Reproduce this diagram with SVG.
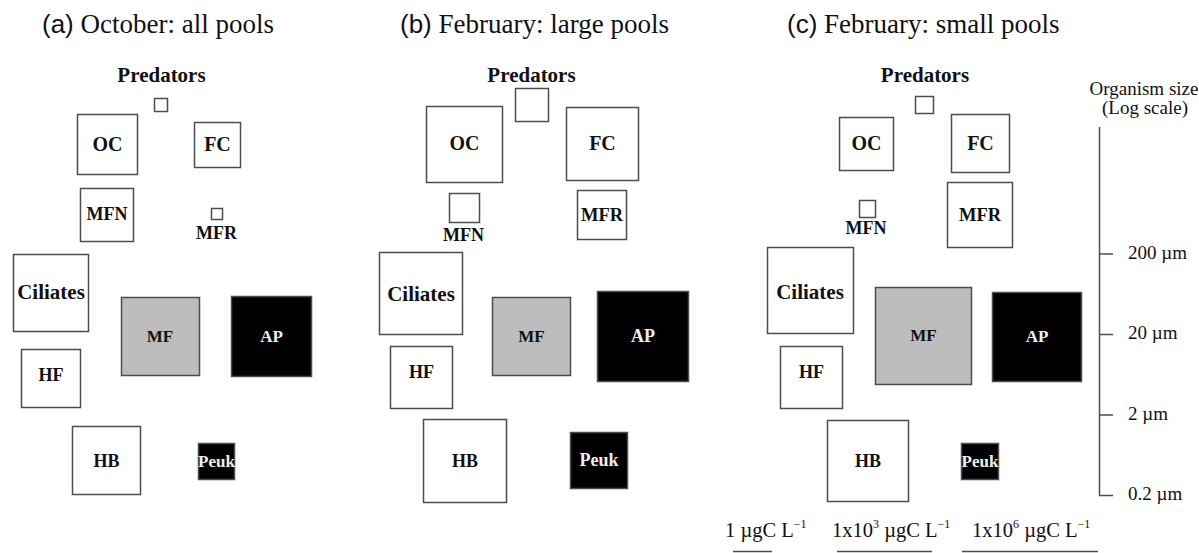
<svg xmlns="http://www.w3.org/2000/svg" width="1199" height="553" viewBox="0 0 1199 553">
<style>
.box{fill:#fff;stroke:#4d4d4d;stroke-width:1.5}
.mf{fill:#bdbdbd}
.dk{fill:#000}
.lbl{font-family:"Liberation Serif","Times New Roman",serif;font-weight:bold;text-anchor:middle;fill:#111}
.wl{fill:#eeeeee}
.ttl{font-family:"Liberation Serif","Times New Roman",serif;font-size:27px;fill:#111}
.sans{font-family:"Liberation Sans",Arial,sans-serif;font-size:26px}
.sc{font-family:"Liberation Serif","Times New Roman",serif;font-size:19px;fill:#111}
.lg{font-family:"Liberation Serif","Times New Roman",serif;font-size:20.5px;fill:#111}
.axis{stroke:#4d4d4d;stroke-width:1.5;fill:none}
</style>

<!-- Titles -->
<g id="titles">
<text class="ttl" x="42" y="33"><tspan class="sans">(a)</tspan> October: all pools</text>
<text class="ttl" x="400" y="33"><tspan class="sans">(b)</tspan> February: large pools</text>
<text class="ttl" x="787" y="33"><tspan class="sans">(c)</tspan> February: small pools</text>
</g>

<!-- Panel a -->
<g id="a-predators"><text class="lbl" x="161.5" y="82" font-size="21">Predators</text><rect class="box" x="154.5" y="98.5" width="13" height="13"/></g>
<g id="a-OC"><rect class="box" x="77.5" y="114.5" width="60" height="60"/><text class="lbl" x="107.5" y="151" font-size="20">OC</text></g>
<g id="a-FC"><rect class="box" x="194.5" y="122.5" width="46" height="45"/><text class="lbl" x="217.5" y="151" font-size="20">FC</text></g>
<g id="a-MFN"><rect class="box" x="80.5" y="188.5" width="53" height="53"/><text class="lbl" x="107" y="220" font-size="18">MFN</text></g>
<g id="a-MFR"><rect class="box" x="211.5" y="208.5" width="11" height="11"/><text class="lbl" x="216.5" y="239" font-size="18">MFR</text></g>
<g id="a-Ciliates"><rect class="box" x="13.5" y="254.5" width="75" height="77"/><text class="lbl" x="51" y="299" font-size="21">Ciliates</text></g>
<g id="a-MF"><rect class="box mf" x="121.5" y="297.5" width="78" height="78"/><text class="lbl" x="160" y="342" font-size="17">MF</text></g>
<g id="a-AP"><rect class="box dk" x="231.5" y="296.5" width="80" height="80"/><text class="lbl wl" x="271.5" y="342" font-size="17">AP</text></g>
<g id="a-HF"><rect class="box" x="21.5" y="349.5" width="59" height="58"/><text class="lbl" x="51" y="381" font-size="18">HF</text></g>
<g id="a-HB"><rect class="box" x="72.5" y="426.5" width="68" height="68"/><text class="lbl" x="106.5" y="467" font-size="18">HB</text></g>
<g id="a-Peuk"><rect class="box dk" x="198.5" y="443.5" width="36" height="36"/><text class="lbl wl" x="216.5" y="467" font-size="17">Peuk</text></g>

<!-- Panel b -->
<g id="b-predators"><text class="lbl" x="531.5" y="82" font-size="21">Predators</text><rect class="box" x="515.5" y="88.5" width="33" height="33"/></g>
<g id="b-OC"><rect class="box" x="426.5" y="106.5" width="76" height="76"/><text class="lbl" x="464.5" y="150" font-size="20">OC</text></g>
<g id="b-FC"><rect class="box" x="566.5" y="107.5" width="72" height="73"/><text class="lbl" x="602.5" y="150" font-size="20">FC</text></g>
<g id="b-MFN"><rect class="box" x="449.5" y="193.5" width="30" height="29"/><text class="lbl" x="463.5" y="241" font-size="18">MFN</text></g>
<g id="b-MFR"><rect class="box" x="577.5" y="190.5" width="49" height="49"/><text class="lbl" x="602" y="221" font-size="18.5">MFR</text></g>
<g id="b-Ciliates"><rect class="box" x="379.5" y="252.5" width="83" height="82"/><text class="lbl" x="421" y="301" font-size="21">Ciliates</text></g>
<g id="b-MF"><rect class="box mf" x="492.5" y="297.5" width="78" height="78"/><text class="lbl" x="531.5" y="342" font-size="17">MF</text></g>
<g id="b-AP"><rect class="box dk" x="597.5" y="291.5" width="91" height="90"/><text class="lbl wl" x="643" y="342" font-size="18">AP</text></g>
<g id="b-HF"><rect class="box" x="390.5" y="346.5" width="62" height="62"/><text class="lbl" x="421.5" y="378" font-size="18">HF</text></g>
<g id="b-HB"><rect class="box" x="423.5" y="419.5" width="83" height="83"/><text class="lbl" x="465" y="467" font-size="18">HB</text></g>
<g id="b-Peuk"><rect class="box dk" x="570.5" y="432.5" width="57" height="56"/><text class="lbl wl" x="599" y="466" font-size="18">Peuk</text></g>

<!-- Panel c -->
<g id="c-predators"><text class="lbl" x="925" y="82" font-size="21">Predators</text><rect class="box" x="915.5" y="96.5" width="18" height="17"/></g>
<g id="c-OC"><rect class="box" x="839.5" y="117.5" width="54" height="53"/><text class="lbl" x="866.5" y="150" font-size="20">OC</text></g>
<g id="c-FC"><rect class="box" x="951.5" y="114.5" width="58" height="58"/><text class="lbl" x="980.5" y="150" font-size="20">FC</text></g>
<g id="c-MFN"><rect class="box" x="859.5" y="200.5" width="16" height="17"/><text class="lbl" x="866" y="234" font-size="18">MFN</text></g>
<g id="c-MFR"><rect class="box" x="947.5" y="182.5" width="65" height="65"/><text class="lbl" x="980" y="221" font-size="18.5">MFR</text></g>
<g id="c-Ciliates"><rect class="box" x="767.5" y="247.5" width="86" height="86"/><text class="lbl" x="810" y="299" font-size="21">Ciliates</text></g>
<g id="c-MF"><rect class="box mf" x="875.5" y="287.5" width="96" height="97"/><text class="lbl" x="923.5" y="341" font-size="17">MF</text></g>
<g id="c-AP"><rect class="box dk" x="992.5" y="292.5" width="89" height="89"/><text class="lbl wl" x="1037" y="342" font-size="17">AP</text></g>
<g id="c-HF"><rect class="box" x="780.5" y="346.5" width="62" height="62"/><text class="lbl" x="811.5" y="378" font-size="18">HF</text></g>
<g id="c-HB"><rect class="box" x="827.5" y="420.5" width="81" height="81"/><text class="lbl" x="868" y="467" font-size="18">HB</text></g>
<g id="c-Peuk"><rect class="box dk" x="961.5" y="443.5" width="37" height="36"/><text class="lbl wl" x="980" y="467" font-size="17">Peuk</text></g>

<!-- Size scale -->
<g id="size-scale">
<text class="sc" x="1144" y="95" text-anchor="middle" font-size="17.5">Organism size</text>
<text class="sc" x="1145" y="114" text-anchor="middle" font-size="18">(Log scale)</text>
<path class="axis" d="M1099.5 127V495.5H1113M1099.5 254H1113M1099.5 334.5H1113M1099.5 415H1113"/>
<text class="sc" x="1128" y="259">200 µm</text>
<text class="sc" x="1128" y="339">20 µm</text>
<text class="sc" x="1128" y="419.5">2 µm</text>
<text class="sc" x="1128" y="500">0.2 µm</text>
</g>

<!-- Biomass legend -->
<g id="biomass-legend">
<text class="lg" x="725" y="537">1 µgC L<tspan font-size="12" dy="-9">−1</tspan></text>
<text class="lg" x="832" y="537">1x10<tspan font-size="12" dy="-9">3</tspan><tspan dy="9"> µgC L</tspan><tspan font-size="12" dy="-9">−1</tspan></text>
<text class="lg" x="972" y="537">1x10<tspan font-size="12" dy="-9">6</tspan><tspan dy="9"> µgC L</tspan><tspan font-size="12" dy="-9">−1</tspan></text>
<path class="axis" d="M733 551.5H772M837 551.5H932M962 551.5H1098"/>
</g>
</svg>
